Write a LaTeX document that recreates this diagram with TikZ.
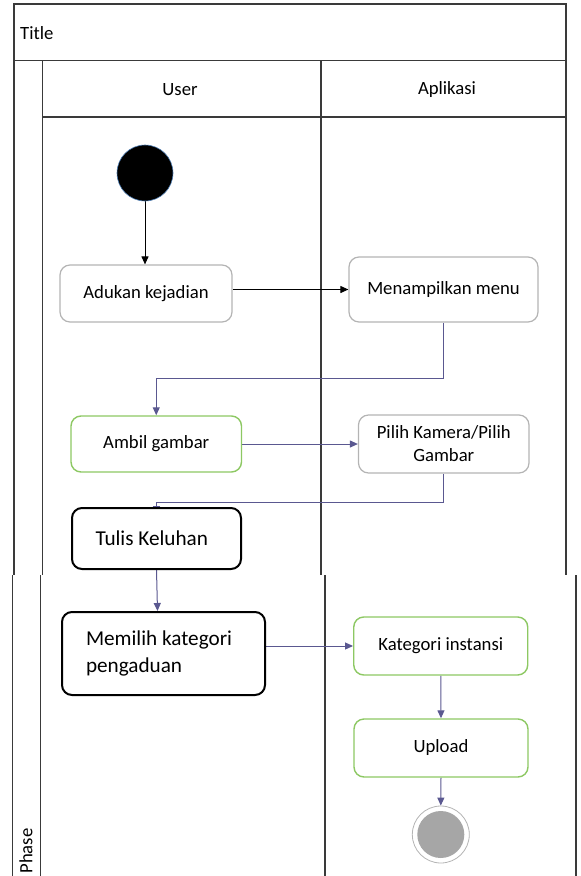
\documentclass[tikz,border=0pt]{standalone}
\usepackage{fontspec}
\setmainfont{Carlito}
\usetikzlibrary{arrows.meta,backgrounds,calc}

\definecolor{laneline}{HTML}{3A3A3A}
\definecolor{flowline}{HTML}{5A5890}
\definecolor{softgray}{HTML}{B4B4B4}
\definecolor{softgreen}{HTML}{8DC863}
\definecolor{endfill}{HTML}{A6A6A6}
\definecolor{startedge}{HTML}{4F7FB5}

\begin{document}
\begin{tikzpicture}[x=1pt,y=-1pt,
  lane/.style={draw=laneline,line width=1.3pt},
  act/.style={rectangle,rounded corners=10pt,fill=white,align=center,inner sep=0pt,
    font=\fontsize{18.7}{23}\selectfont},
  graybox/.style={act,draw=softgray,line width=1.2pt},
  greenbox/.style={act,draw=softgreen,line width=1.4pt},
  blackbox/.style={act,draw=black,line width=2pt,font=\fontsize{21.2}{27}\selectfont},
  flow/.style={draw=flowline,line width=1pt,-{Triangle[length=8pt,width=7pt]}},
  plainflow/.style={draw=black,line width=1pt,-{Triangle[length=8pt,width=7pt]}},
  lbl/.style={font=\fontsize{18.7}{23}\selectfont,inner sep=0pt}
]
\useasboundingbox (0,0) rectangle (581,876);

% swimlane frame, upper sheet
\begin{scope}[on background layer]
  \draw[lane] (14,575) -- (14,4) -- (566,4) -- (566,575);
  \draw[lane] (14,60.7) -- (566,60.7);
  \draw[lane] (42.6,60.7) -- (42.6,575);
  \draw[lane] (42.6,117) -- (566,117);
  \draw[lane] (321,60.7) -- (321,575);
  % lower sheet
  \draw[lane] (12.2,575) -- (12.2,876);
  \draw[lane] (40.7,575) -- (40.7,876);
  \draw[lane] (325,575) -- (325,876);
  \draw[lane] (576,575) -- (576,876);
\end{scope}

% headings
\node[lbl,anchor=west] (title) at (20,33) {Title};
\node[lbl] (user) at (180,90) {User};
\node[lbl] (app) at (447,90) {Aplikasi};
\node[lbl,rotate=90] (phase) at (26,851) {Phase};

% activities
\node[circle,fill=black,draw=startedge,line width=0.6pt,minimum size=56pt,inner sep=0pt] (start) at (145,173) {};
\node[graybox,minimum width=172pt,minimum height=57pt] (adukan) at (146,293.5) {Adukan kejadian};
\node[graybox,minimum width=189pt,minimum height=65pt] (menu) at (443.5,289.5) {Menampilkan menu};
\node[greenbox,minimum width=170.5pt,minimum height=56pt] (ambil) at (156.25,444) {Ambil gambar};
\node[graybox,minimum width=170.5pt,minimum height=58pt] (pilih) at (443.75,444) {Pilih Kamera/Pilih\\Gambar};
\node[blackbox,minimum width=169pt,minimum height=61pt,text width=122pt,align=flush left,inner xsep=23.5pt] (tulis) at (156.5,538.5) {Tulis Keluhan};
\node[blackbox,minimum width=203pt,minimum height=83pt,text width=155pt,align=flush left,inner xsep=24pt] (memilih) at (163.5,653.5) {Memilih kategori\\pengaduan};
\node[greenbox,minimum width=174pt,minimum height=58pt] (kat) at (440.75,646) {Kategori instansi};
\node[greenbox,minimum width=174pt,minimum height=58pt] (upload) at (441,748) {Upload};
\node[circle,draw=softgray,line width=0.8pt,fill=white,minimum size=57pt,inner sep=0pt] (end) at (440.8,834.5) {};
\node[circle,fill=endfill,minimum size=47pt,inner sep=0pt] (endcore) at (end.center) {};

% bend points of the routed connectors
\coordinate (bend1) at (156.25,378);
\coordinate (bend2) at (156.5,502);
\coordinate (tulisin) at ($(tulis.north)+(0,7)$);
\coordinate (memilihin) at ($(memilih.north west)+(96.5,0)$);

% connectors
\begin{scope}[on background layer]
  \draw[plainflow] (start.south) -- (start.south |- adukan.north);
  \draw[plainflow] (adukan.east |- menu.west) -- (menu.west);
  \draw[flow] (menu.south) |- (bend1) -- (ambil.north);
  \draw[flow] (ambil.east) -- (pilih.west);
  \draw[flow] (pilih.south) |- (bend2) -- (tulisin);
  \draw[flow] (tulis.south) -- (memilihin);
  \draw[flow] (memilih.east |- kat.west) -- (kat.west);
  \draw[flow] (kat.south) -- (upload.north);
  \draw[flow] (upload.south) -- (end.north);
\end{scope}
\end{tikzpicture}
\end{document}
